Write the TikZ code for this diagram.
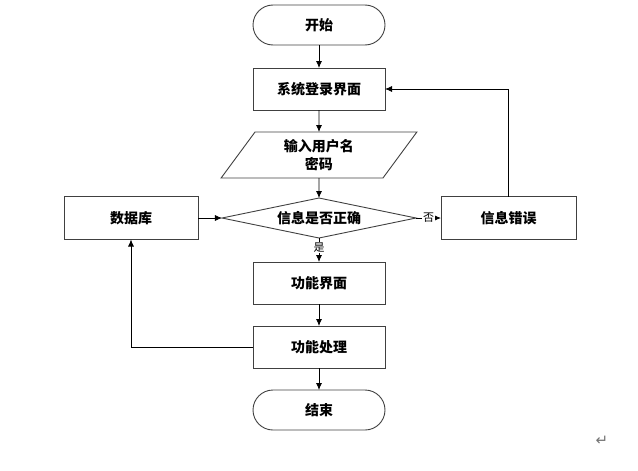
\documentclass[tikz,border=0pt]{standalone}
\usepackage{fontspec}
\newfontfamily\cjk{Noto Sans CJK SC}
\newfontfamily\symfont{DejaVu Sans}
\usetikzlibrary{positioning}
\usetikzlibrary{arrows.meta,shapes.geometric}

\begin{document}
\begin{tikzpicture}[x=1pt,y=1pt,base/.style={draw=black!75,line width=0.9pt,minimum width=132pt,minimum height=42pt,node distance=22pt,outer sep=0pt,inner sep=2pt,font=\cjk\bfseries\fontsize{14}{18}\selectfont},term/.style={base,minimum height=40pt,rounded corners=20pt},io/.style={base,trapezium,trapezium left angle=61,trapezium right angle=119,trapezium stretches=true,minimum width=196pt,minimum height=46pt,align=center},cond/.style={base,diamond,aspect=4.85,inner sep=0pt,minimum width=194pt,minimum height=40pt},arr/.style={-{Latex[length=7pt,width=6pt]},line width=0.8pt,black},lbl/.style={fill=white,inner sep=1pt,font=\cjk\fontsize{11}{12}\selectfont}]
    \useasboundingbox (0,0) rectangle (638,-471);
    %
    \node[term](start) at (319,-25){开始};
    \node[base,below=23pt of start](sys){系统登录界面};
    \node[io,below=of sys](input){输入用户名\\密码};
    \node[cond,below=20pt of input](check){信息是否正确};
    \node[base,below=24pt of check](func){功能界面};
    \node[base,below=of func](work){功能处理};
    \node[term,below=of work](stop){结束};
    %
    \node[base,minimum width=134pt,minimum height=43pt,left=24pt of check](db){数据库};
    \node[base,minimum width=135pt,minimum height=43pt,right=25pt of check](err){信息错误};
    %
    \node[text=black!55,font=\symfont\fontsize{15}{15}\selectfont](mark) at (602,-441){↵};
    %
    \draw[arr] (start) -- (sys);
    \draw[arr] (sys) -- (input);
    \draw[arr] (input) -- (check);
    \draw[arr] (check) -- node[lbl,pos=0.4]{是} (func);
    \draw[arr] (func) -- (work);
    \draw[arr] (work) -- (stop);
    %
    \draw[arr] (db) -- (check);
    \draw[arr] (check) -- node[lbl]{否} (err);
    \draw[arr] (err) |- (sys);
    \draw[arr] (work) -| (db);
    %
\end{tikzpicture}
\end{document}
